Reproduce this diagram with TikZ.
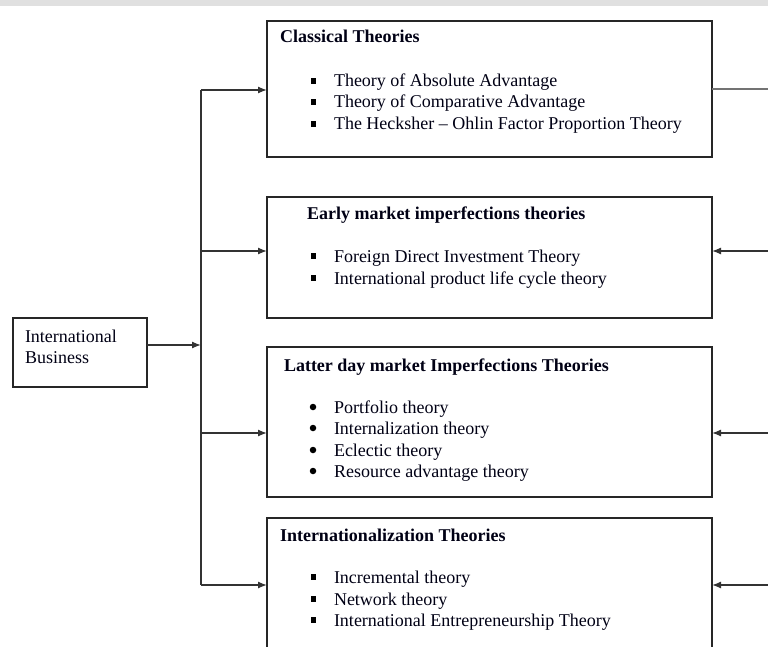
\documentclass[tikz,border=0pt]{standalone}
\usepackage{fontspec}
\setmainfont{Liberation Serif}
\usetikzlibrary{arrows.meta}
\begin{document}
\begin{tikzpicture}[x=1pt,y=-1pt,
  every node/.style={inner sep=0pt, outer sep=0pt},
  box/.style={draw=black!85, line width=1.4pt, anchor=north west},
  txt/.style={anchor=base west, text=black!92!blue, font=\fontsize{18}{21.5}\selectfont},
  ttl/.style={txt, font=\fontsize{18}{21.5}\selectfont\bfseries},
  sqb/.style={fill=black, minimum width=5pt, minimum height=6.5pt},
  rdb/.style={fill=black, circle, minimum size=6.5pt},
  conn/.style={draw=black!80, line width=1.3pt},
  arr/.style={conn, -{Latex[length=9pt,width=7pt]}}]
\useasboundingbox (0,0) rectangle (768,647);
\clip (0,0) rectangle (768,647);
% paper strip along the top
\fill[black!12] (0,0) rectangle (768,6);

% boxes
\node[box, minimum width=134pt, minimum height=69pt] (ib) at (13,318) {};
\node[box, minimum width=445pt, minimum height=136pt] (c1) at (267,21) {};
\node[box, minimum width=445pt, minimum height=121pt] (c2) at (267,197) {};
\node[box, minimum width=445pt, minimum height=150pt] (c3) at (267,347) {};
\node[box, minimum width=445pt, minimum height=160pt] (c4) at (267,518) {};

% International Business
\node[txt] (ib1) at (25,342) {International};
\node[txt] (ib2) at (25,363) {Business};

% Classical Theories
\node[ttl] (t1) at (280,43) {Classical Theories};
\foreach \y/\s [count=\i] in {87/Theory of Absolute Advantage,
                               108/Theory of Comparative Advantage,
                               130/The Hecksher – Ohlin Factor Proportion Theory}{
  \node[sqb] (b1\i) at (313,\y-6) {};
  \node[txt] (l1\i) at (334,\y) {\s};
}

% Early market imperfections theories
\node[ttl] (t2) at (307,219) {Early market imperfections theories};
\foreach \y/\s [count=\i] in {262/Foreign Direct Investment Theory,
                               284/International product life cycle theory}{
  \node[sqb] (b2\i) at (313,\y-6) {};
  \node[txt] (l2\i) at (334,\y) {\s};
}

% Latter day market imperfections theories
\node[ttl] (t3) at (284,371) {Latter day market Imperfections Theories};
\foreach \y/\s [count=\i] in {413/Portfolio theory,
                               434/Internalization theory,
                               456/Eclectic theory,
                               477/Resource advantage theory}{
  \node[rdb] (b3\i) at (313,\y-6) {};
  \node[txt] (l3\i) at (334,\y) {\s};
}

% Internationalization theories
\node[ttl] (t4) at (280,541) {Internationalization Theories};
\foreach \y/\s [count=\i] in {583/Incremental theory,
                               605/Network theory,
                               626/International Entrepreneurship Theory}{
  \node[sqb] (b4\i) at (313,\y-6) {};
  \node[txt] (l4\i) at (334,\y) {\s};
}

% distribution bus
\coordinate (bus1) at (201,90);
\coordinate (bus2) at (201,251);
\coordinate (bus3) at (201,433);
\coordinate (bus4) at (201,585);
\draw[conn] (bus1) -- (bus4);
\coordinate (ibo) at (ib.east |- 0,345);
\draw[arr] (ibo) -- (ibo -| bus1);
\foreach \k in {1,2,3,4}{
  \draw[arr] (bus\k) -- (bus\k -| c\k.west);
}

% connectors on the right
\coordinate (rt1) at (768,89);
\coordinate (rt2) at (768,251);
\coordinate (rt3) at (768,433);
\coordinate (rt4) at (768,585);
\draw[conn, draw=black!55] (rt1 -| c1.east) -- (rt1);
\foreach \k in {2,3,4}{
  \draw[arr] (rt\k) -- (rt\k -| c\k.east);
}
\end{tikzpicture}
\end{document}
